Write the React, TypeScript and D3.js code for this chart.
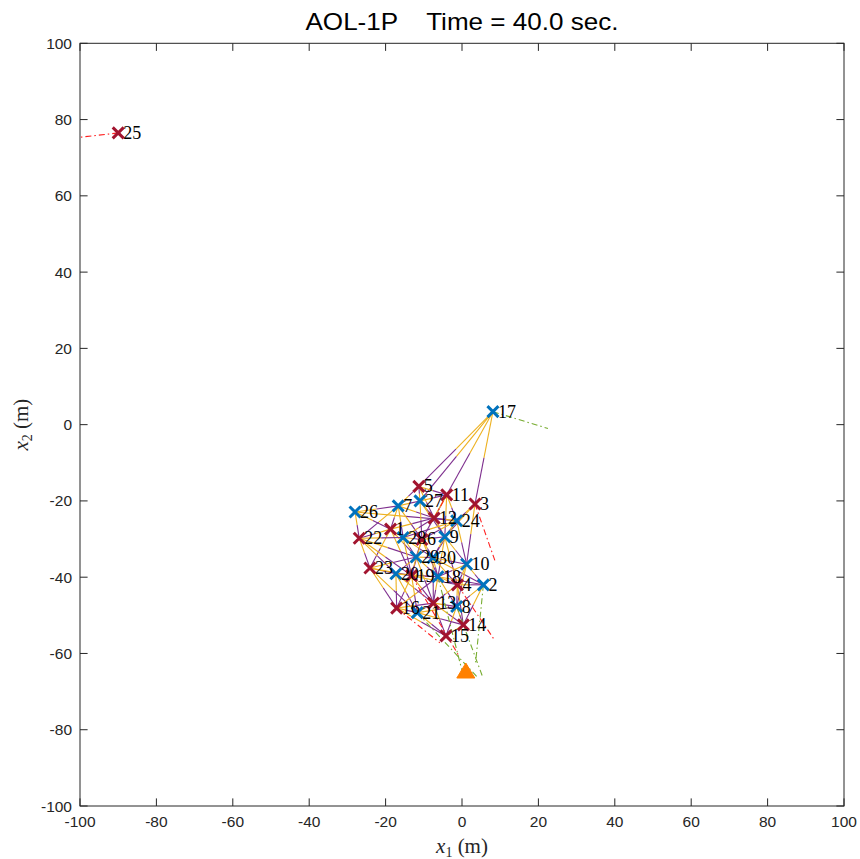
import React from "react";
import * as d3 from "d3";

// Agent positions (m) and team membership
const ids = [1, 2, 3, 4, 5, 6, 7, 8, 9, 10, 11, 12, 13, 14, 15, 16, 17, 18, 19, 20, 21, 22, 23, 24, 25, 26, 27, 28, 29, 30];
const posX = [-18.7, 5.6, 3.4, -1.2, -11.3, -10.5, -16.7, -1.4, -4.5, 1.2, -4.0, -7.3, -7.5, 0.35, -4.2, -17.1, 8.1, -6.3, -13.2, -17.3, -11.7, -26.9, -24.1, -1.4, -90.0, -28.0, -11.0, -15.4, -12.0, -7.6];
const posY = [-27.4, -42.0, -20.8, -42.0, -16.2, -30.1, -21.3, -47.7, -29.4, -36.6, -18.4, -24.5, -46.8, -52.5, -55.4, -48.1, 3.4, -39.9, -39.6, -39.1, -49.3, -29.8, -37.6, -25.2, 76.5, -22.9, -20.0, -29.6, -34.7, -34.9];
const team = ["R", "B", "R", "R", "R", "R", "B", "B", "B", "B", "R", "R", "R", "R", "R", "R", "B", "B", "R", "B", "B", "R", "R", "B", "R", "B", "B", "B", "B", "B"];

// Communication links: [from, to]
const links: [number, number][] = [
  [17, 5], [17, 27], [17, 11], [17, 3],
  [26, 7], [26, 22], [26, 1], [26, 24],
  [7, 5], [7, 27], [7, 1], [7, 12], [7, 22], [7, 28], [7, 6],
  [27, 5], [27, 11], [27, 12], [27, 6], [27, 9],
  [11, 24], [11, 12], [11, 9], [11, 6], [3, 24], [3, 9], [3, 10],
  [24, 12], [24, 9], [24, 6], [24, 10], [24, 30], [24, 28],
  [1, 22], [1, 28], [1, 23], [1, 29], [1, 19], [1, 12],
  [22, 28], [22, 23], [22, 20], [22, 29], [22, 19],
  [28, 6], [28, 29], [28, 12], [28, 19], [28, 30],
  [6, 9], [6, 29], [6, 30], [6, 18], [6, 19],
  [9, 30], [9, 10], [9, 18], [9, 4],
  [29, 30], [29, 19], [29, 20], [29, 13], [29, 18],
  [30, 18], [30, 10], [30, 4], [30, 13], [30, 2],
  [10, 4], [10, 2], [10, 18], [10, 8],
  [23, 20], [23, 16], [23, 19], [23, 21], [23, 29],
  [20, 19], [20, 16], [20, 21], [20, 13], [20, 18],
  [19, 18], [19, 21], [19, 13], [19, 16], [19, 4],
  [18, 4], [18, 13], [18, 8], [18, 2],
  [4, 2], [4, 8], [4, 14], [4, 13],
  [2, 8], [2, 14],
  [16, 21], [16, 13], [16, 15], [16, 18],
  [21, 13], [21, 15], [21, 8], [21, 14],
  [13, 8], [13, 14], [13, 15],
  [8, 14], [8, 15], [14, 15], [12, 9], [5, 12], [5, 11],
];

// Heading segments: agent id and end point (m)
const headId = [25, 17, 3, 4, 16, 19, 12, 21, 8, 18, 2];
const headX = [-112, 22.5, 8.6, 8.6, -5.8, -1.0, -3.5, 4.2, 5.5, 0.5, 3.5];
const headY = [74.0, -1.0, -35.6, -56.6, -57.2, -60.3, -17.5, -66.4, -66.4, -66.4, -63.0];

// Target location
const targetX = [1.0];
const targetY = [-64.6];

const xTicks = [-100, -80, -60, -40, -20, 0, 20, 40, 60, 80, 100];
const yTicks = [-100, -80, -60, -40, -20, 0, 20, 40, 60, 80, 100];

const W = 860;
const H = 859;
const L = 80, R = 844, T = 43.3, B = 806;

const C_PURPLE = "#7E2F8E";
const C_ORANGE = "#EDB120";
const C_RED = "#FF1F1F";
const C_GREEN = "#77AC30";
const C_RTEAM = "#A2142F";
const C_BTEAM = "#0072BD";
const AX = "#262626";

export default function App() {
  const x = d3.scaleLinear().domain([-100, 100]).range([L, R]);
  const y = d3.scaleLinear().domain([-100, 100]).range([B, T]);
  const idx = (id: number) => ids.indexOf(id);
  const px = (id: number) => x(posX[idx(id)]);
  const py = (id: number) => y(posY[idx(id)]);
  const tick = 7.6;
  const ms = 5.5;

  return (
    <svg width={W} height={H} style={{ display: "block", position: "absolute", left: 0, top: 0 }}>
      <rect x={0} y={0} width={W} height={H} fill="#fff" />
      <defs>
        <clipPath id="plot-clip">
          <rect x={L} y={T} width={R - L} height={B - T} />
        </clipPath>
      </defs>

      <g clipPath="url(#plot-clip)">
        {/* links: orange half at the first agent, purple half at the second */}
        {links.map(([a, b], i) => {
          const x1 = px(a), y1 = py(a), x2 = px(b), y2 = py(b);
          const mx = (x1 + x2) / 2, my = (y1 + y2) / 2;
          return (
            <g key={"l" + i}>
              <line x1={x1} y1={y1} x2={mx} y2={my} stroke={C_ORANGE} strokeWidth={1.1} />
              <line x1={mx} y1={my} x2={x2} y2={y2} stroke={C_PURPLE} strokeWidth={1.1} />
            </g>
          );
        })}

        {/* heading segments */}
        {headId.map((id, i) => (
          <line
            key={"h" + i}
            x1={px(id)}
            y1={py(id)}
            x2={x(headX[i])}
            y2={y(headY[i])}
            stroke={team[idx(id)] === "R" ? C_RED : C_GREEN}
            strokeWidth={1.1}
            strokeDasharray="6,3,1.5,3"
          />
        ))}

        {/* target */}
        {targetX.map((tx, i) => {
          const cx = x(tx), cy = y(targetY[i]);
          return (
            <path
              key={"t" + i}
              d={`M${cx - 9},${cy + 7} L${cx + 9},${cy + 7} L${cx},${cy - 8} Z`}
              fill="#FF8000"
              stroke="#FF8000"
              strokeWidth={1}
            />
          );
        })}

        {/* agents */}
        {ids.map((id, i) => {
          const cx = x(posX[i]), cy = y(posY[i]);
          const col = team[i] === "R" ? C_RTEAM : C_BTEAM;
          return (
            <path
              key={"a" + id}
              d={`M${cx - ms},${cy - ms} L${cx + ms},${cy + ms} M${cx - ms},${cy + ms} L${cx + ms},${cy - ms}`}
              stroke={col}
              strokeWidth={3}
              fill="none"
            />
          );
        })}
      </g>

      {/* agent labels */}
      {ids.map((id, i) => (
        <text
          key={"n" + id}
          x={x(posX[i]) + 5}
          y={y(posY[i]) + 6}
          fontFamily="'Liberation Serif', 'DejaVu Serif', serif"
          fontSize={18}
          fill="#000"
        >
          {id}
        </text>
      ))}

      {/* axes box */}
      <rect x={L} y={T} width={R - L} height={B - T} fill="none" stroke={AX} strokeWidth={1} />

      {/* ticks */}
      {xTicks.map((v) => (
        <g key={"xt" + v}>
          <line x1={x(v)} x2={x(v)} y1={B} y2={B - tick} stroke={AX} strokeWidth={1} />
          <line x1={x(v)} x2={x(v)} y1={T} y2={T + tick} stroke={AX} strokeWidth={1} />
          <text
            x={x(v)}
            y={B + 21}
            textAnchor="middle"
            fontFamily="'Liberation Sans', Arial, sans-serif"
            fontSize={15.5}
            fill={AX}
          >
            {v}
          </text>
        </g>
      ))}
      {yTicks.map((v) => (
        <g key={"yt" + v}>
          <line x1={L} x2={L + tick} y1={y(v)} y2={y(v)} stroke={AX} strokeWidth={1} />
          <line x1={R} x2={R - tick} y1={y(v)} y2={y(v)} stroke={AX} strokeWidth={1} />
          <text
            x={L - 8}
            y={y(v) + 5.5}
            textAnchor="end"
            fontFamily="'Liberation Sans', Arial, sans-serif"
            fontSize={15.5}
            fill={AX}
          >
            {v}
          </text>
        </g>
      ))}

      {/* title */}
      <text
        x={(L + R) / 2}
        y={30}
        textAnchor="middle"
        fontFamily="'Liberation Sans', Arial, sans-serif"
        fontSize={24}
        fill="#000"
        textLength={313}
        lengthAdjust="spacingAndGlyphs"
        style={{ whiteSpace: "pre" }}
      >
        {"AOL-1P    Time = 40.0 sec."}
      </text>

      {/* axis labels */}
      <text
        x={(L + R) / 2}
        y={853}
        textAnchor="middle"
        fontFamily="'Liberation Serif', 'DejaVu Serif', serif"
        fontSize={21}
        fill={AX}
      >
        <tspan fontStyle="italic">x</tspan>
        <tspan fontSize={14} dy={4}>1</tspan>
        <tspan dy={-4}>{" (m)"}</tspan>
      </text>
      <text
        transform={`translate(28, ${(T + B) / 2}) rotate(-90)`}
        textAnchor="middle"
        fontFamily="'Liberation Serif', 'DejaVu Serif', serif"
        fontSize={21}
        fill={AX}
      >
        <tspan fontStyle="italic">x</tspan>
        <tspan fontSize={14} dy={4}>2</tspan>
        <tspan dy={-4}>{" (m)"}</tspan>
      </text>
    </svg>
  );
}
